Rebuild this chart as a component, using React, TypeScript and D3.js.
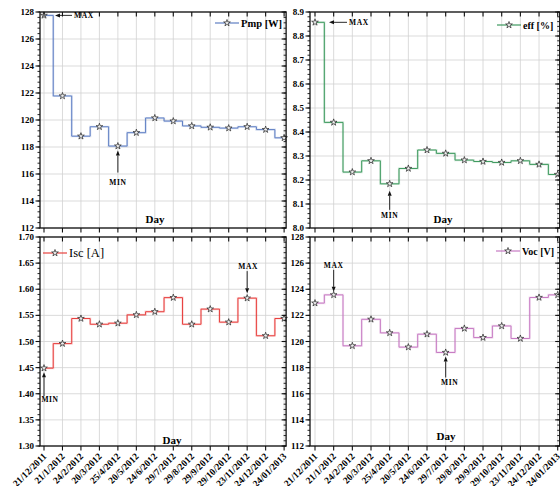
import React from 'react';
import * as d3 from 'd3';

// measurement dates (x categories)
const dates = [
  '21/12/2011', '21/1/2012', '24/2/2012', '20/3/2012', '25/4/2012', '20/5/2012', '24/6/2012',
  '29/7/2012', '29/8/2012', '29/9/2012', '29/10/2012', '23/11/2012', '24/12/2012', '24/01/2013',
];

// series
const pmpValues = [127.75, 121.78, 118.8, 119.5, 118.07, 119.06, 120.15, 119.92, 119.56, 119.46, 119.4, 119.5, 119.29, 118.68];
const effValues = [8.857, 8.44, 8.233, 8.28, 8.184, 8.248, 8.325, 8.311, 8.283, 8.277, 8.273, 8.28, 8.265, 8.223];
const iscValues = [1.449, 1.496, 1.544, 1.533, 1.535, 1.551, 1.557, 1.584, 1.533, 1.562, 1.537, 1.583, 1.511, 1.544];
const vocValues = [122.94, 123.57, 119.67, 121.7, 120.66, 119.57, 120.56, 119.16, 121.0, 120.3, 121.19, 120.23, 123.37, 123.57];

// y ticks
const voltTicks = [112, 114, 116, 118, 120, 122, 124, 126, 128];
const effTicks = [8.0, 8.1, 8.2, 8.3, 8.4, 8.5, 8.6, 8.7, 8.8, 8.9];
const iscTicks = [1.3, 1.35, 1.4, 1.45, 1.5, 1.55, 1.6, 1.65, 1.7];

const FONT = '"Liberation Serif", "DejaVu Serif", serif';

interface Note {
  index: number;
  label: string;
  dir: 'left' | 'up' | 'down'; // where the arrow sits relative to the point
  gap: number;
  len: number;
  textOff: number;
  dx?: number;
}

interface PanelProps {
  values: number[];
  color: string;
  x0: number;
  step: number;
  leftPad: number;
  top: number;
  bottom: number;
  domain: [number, number];
  ticks: number[];
  minorStep: number;
  fmt: (v: number) => string;
  legend: { text: string; x: number; y: number; size: number; weight: string };
  notes: Note[];
  day: { x: number; y: number };
  showDates: boolean;
}

const starPath = d3.symbol().type(d3.symbolStar).size(14)() as string;

const Arrow: React.FC<{ x1: number; y1: number; x2: number; y2: number }> = ({ x1, y1, x2, y2 }) => {
  // tail (x1,y1) -> tip (x2,y2)
  const a = Math.atan2(y2 - y1, x2 - x1);
  const L = 5, W = 2;
  const bx = x2 - L * Math.cos(a), by = y2 - L * Math.sin(a);
  const p = `M${x2},${y2}L${bx + W * Math.sin(a)},${by - W * Math.cos(a)}L${bx - W * Math.sin(a)},${by + W * Math.cos(a)}Z`;
  return (
    <g>
      <line x1={x1} y1={y1} x2={bx} y2={by} stroke="#111" strokeWidth={0.9} />
      <path d={p} fill="#111" />
    </g>
  );
};

const Panel: React.FC<PanelProps> = (p) => {
  const n = p.values.length;
  const x = d3.scaleLinear().domain([0, n - 1]).range([p.x0, p.x0 + p.step * (n - 1)]);
  const y = d3.scaleLinear().domain(p.domain).range([p.bottom, p.top]);
  const left = p.x0 - p.leftPad;
  const right = x(n - 1) + 2;
  const line = d3.line<number>().x((_, i) => x(i)).y(d => y(d)).curve(d3.curveStep);
  const minors = d3.range(p.domain[0], p.domain[1] + 1e-9, p.minorStep);

  return (
    <g fontFamily={FONT}>
      {/* grid */}
      {p.values.map((_, i) => (
        <line key={'gv' + i} x1={x(i)} x2={x(i)} y1={p.top} y2={p.bottom} stroke="#d2d2d2" strokeWidth={0.8} />
      ))}
      {p.ticks.map(t => (
        <line key={'gh' + t} x1={left} x2={right} y1={y(t)} y2={y(t)} stroke="#d2d2d2" strokeWidth={0.8} />
      ))}

      {/* series */}
      <path d={line(p.values) as string} fill="none" stroke={p.color} strokeOpacity={0.22} strokeWidth={2.2} />
      <path d={line(p.values) as string} fill="none" stroke={p.color} strokeWidth={1} />
      {p.values.map((v, i) => (
        <path key={'s' + i} d={starPath} transform={`translate(${x(i)},${y(v)})`} fill="#eee" stroke="#222" strokeWidth={0.7} />
      ))}

      {/* frame */}
      <rect x={left} y={p.top} width={right - left} height={p.bottom - p.top} fill="none" stroke="#111" strokeWidth={1.3} />

      {/* y ticks */}
      {minors.map((m, i) => (
        <g key={'mn' + i}>
          <line x1={left} x2={left - 2.5} y1={y(m)} y2={y(m)} stroke="#111" strokeWidth={0.9} />
          <line x1={right} x2={right - 2.5} y1={y(m)} y2={y(m)} stroke="#111" strokeWidth={0.9} />
        </g>
      ))}
      {p.ticks.map(t => (
        <g key={'mj' + t}>
          <line x1={left} x2={left - 4.5} y1={y(t)} y2={y(t)} stroke="#111" strokeWidth={1.1} />
          <line x1={right} x2={right - 4.5} y1={y(t)} y2={y(t)} stroke="#111" strokeWidth={1.1} />
          <text x={left - 6} y={y(t) + 3} textAnchor="end" fontSize={9} fontWeight="bold">{p.fmt(t)}</text>
        </g>
      ))}

      {/* x ticks */}
      {p.values.map((_, i) => (
        <g key={'xt' + i}>
          <line x1={x(i)} x2={x(i)} y1={p.top} y2={p.top + 4.5} stroke="#111" strokeWidth={1.1} />
          <line x1={x(i)} x2={x(i)} y1={p.bottom} y2={p.bottom + 4.5} stroke="#111" strokeWidth={1.1} />
        </g>
      ))}
      {p.showDates && dates.map((d, i) => (
        <text key={'dl' + i} transform={`translate(${x(i) + 3},${p.bottom + 11}) rotate(-45)`}
          textAnchor="end" fontSize={9.5} fontWeight="bold">{d}</text>
      ))}

      {/* axis title */}
      <text x={p.day.x} y={p.day.y} textAnchor="middle" fontSize={11} fontWeight="bold">Day</text>

      {/* legend */}
      <line x1={p.legend.x} x2={p.legend.x + 24} y1={p.legend.y} y2={p.legend.y} stroke={p.color} strokeWidth={1.2} />
      <path d={starPath} transform={`translate(${p.legend.x + 12},${p.legend.y})`} fill="#eee" stroke="#222" strokeWidth={0.7} />
      <text x={p.legend.x + 26} y={p.legend.y + p.legend.size * 0.35} fontSize={p.legend.size} fontWeight={p.legend.weight}>{p.legend.text}</text>

      {/* MAX / MIN annotations */}
      {p.notes.map((nt, k) => {
        const px = x(nt.index), py = y(p.values[nt.index]);
        if (nt.dir === 'left') {
          return (
            <g key={'n' + k}>
              <Arrow x1={px + nt.gap + nt.len} y1={py} x2={px + nt.gap} y2={py} />
              <text x={px + nt.gap + nt.len + nt.textOff} y={py + 3} fontSize={7.5} fontWeight="bold" letterSpacing={0.6}>{nt.label}</text>
            </g>
          );
        }
        const s = nt.dir === 'up' ? 1 : -1; // 'up': arrow below point pointing up
        return (
          <g key={'n' + k}>
            <Arrow x1={px} y1={py + s * (nt.gap + nt.len)} x2={px} y2={py + s * nt.gap} />
            <text x={px + (nt.dx || 0)} y={py + s * (nt.gap + nt.len + nt.textOff) + (s > 0 ? 2.5 : 0)}
              textAnchor="middle" fontSize={7.5} fontWeight="bold" letterSpacing={0.6}>{nt.label}</text>
          </g>
        );
      })}
    </g>
  );
};

const LEFT = { x0: 44, step: 18.47, leftPad: 4 };
const RIGHT = { x0: 315, step: 18.67, leftPad: 5 };
const TOP = { top: 12, bottom: 228 };
const BOT = { top: 237, bottom: 446 };

export default function App() {
  return (
    <svg width={560} height={486} style={{ position: 'absolute', left: 0, top: 0, background: '#fff' }}>
      <Panel
        {...LEFT} {...TOP}
        values={pmpValues} color="#5f7fc4" domain={[112, 128]} ticks={voltTicks} minorStep={0.4}
        fmt={d3.format('d')}
        legend={{ text: 'Pmp [W]', x: 215, y: 23, size: 10.5, weight: 'bold' }}
        notes={[
          { index: 0, label: 'MAX', dir: 'left', gap: 11, len: 17, textOff: 2 },
          { index: 4, label: 'MIN', dir: 'up', gap: 4.5, len: 22, textOff: 10 },
        ]}
        day={{ x: 155, y: 223 }}
        showDates={false}
      />
      <Panel
        {...RIGHT} {...TOP}
        values={effValues} color="#3e9a5f" domain={[8.0, 8.9]} ticks={effTicks} minorStep={0.02}
        fmt={d3.format('.1f')}
        legend={{ text: 'eff [%]', x: 497, y: 25, size: 10, weight: 'bold' }}
        notes={[
          { index: 0, label: 'MAX', dir: 'left', gap: 14, len: 18, textOff: 2 },
          { index: 4, label: 'MIN', dir: 'up', gap: 7, len: 19, textOff: 6 },
        ]}
        day={{ x: 443, y: 223 }}
        showDates={false}
      />
      <Panel
        {...LEFT} {...BOT}
        values={iscValues} color="#e8413f" domain={[1.3, 1.7]} ticks={iscTicks} minorStep={0.01}
        fmt={d3.format('.2f')}
        legend={{ text: 'Isc [A]', x: 43, y: 253, size: 12.5, weight: 'normal' }}
        notes={[
          { index: 0, label: 'MIN', dir: 'up', gap: 4, len: 24, textOff: 3, dx: 6 },
          { index: 11, label: 'MAX', dir: 'down', gap: 5, len: 22, textOff: 2, dx: 1 },
        ]}
        day={{ x: 172, y: 444 }}
        showDates={true}
      />
      <Panel
        {...RIGHT} {...BOT}
        values={vocValues} color="#c77ac3" domain={[112, 128]} ticks={voltTicks} minorStep={0.4}
        fmt={d3.format('d')}
        legend={{ text: 'Voc [V]', x: 496, y: 251, size: 10, weight: 'bold' }}
        notes={[
          { index: 1, label: 'MAX', dir: 'down', gap: 3, len: 22, textOff: 2 },
          { index: 7, label: 'MIN', dir: 'up', gap: 4, len: 21, textOff: 5, dx: 4 },
        ]}
        day={{ x: 446, y: 440 }}
        showDates={true}
      />
    </svg>
  );
}
